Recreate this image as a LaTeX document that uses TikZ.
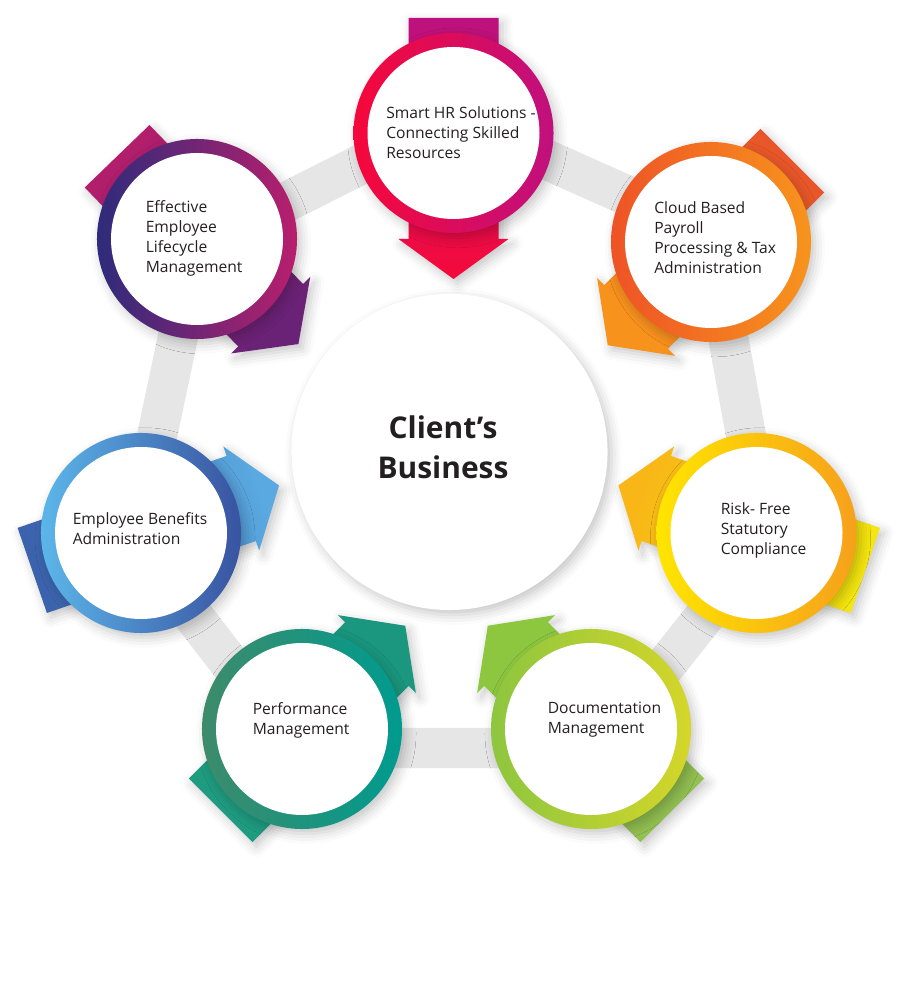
\documentclass[tikz,border=0pt]{standalone}
\usepackage{fontspec}
\setmainfont{Open Sans}
\usetikzlibrary{calc,shadows.blur}
\definecolor{ink}{HTML}{231F20}
\definecolor{band}{HTML}{E6E6E6}
\definecolor{hr-l}{HTML}{F5083A}\definecolor{hr-r}{HTML}{C0107E}
\definecolor{hr-t}{HTML}{BC117E}\definecolor{hr-h}{HTML}{F50A3A}
\definecolor{pay-l}{HTML}{EE5326}\definecolor{pay-r}{HTML}{F7941D}
\definecolor{pay-t}{HTML}{E9552A}\definecolor{pay-h}{HTML}{F7931D}
\definecolor{stat-l}{HTML}{FFE500}\definecolor{stat-r}{HTML}{F6A01C}
\definecolor{stat-t}{HTML}{F4E60E}\definecolor{stat-h}{HTML}{F8B617}
\definecolor{doc-l}{HTML}{8DC63F}\definecolor{doc-r}{HTML}{D5D629}
\definecolor{doc-t}{HTML}{92C052}\definecolor{doc-h}{HTML}{8DC63F}
\definecolor{perf-l}{HTML}{3D8B6B}\definecolor{perf-r}{HTML}{009B8F}
\definecolor{perf-t}{HTML}{1F9C80}\definecolor{perf-h}{HTML}{1A977E}
\definecolor{ben-l}{HTML}{5CB6EA}\definecolor{ben-r}{HTML}{3953A0}
\definecolor{ben-t}{HTML}{3B62AC}\definecolor{ben-h}{HTML}{5AA9E0}
\definecolor{life-l}{HTML}{2E2B7B}\definecolor{life-r}{HTML}{B81F6D}
\definecolor{life-t}{HTML}{B21E6C}\definecolor{life-h}{HTML}{6A2277}

\begin{document}
\begin{tikzpicture}[x=0.025cm, y=0.025cm,
  txt/.style={align=left, anchor=west, inner sep=0pt, text=ink,
    font=\fontsize{11.1}{14.2}\selectfont},
  disc/.style={circle, inner sep=0pt, minimum size=5cm},
  soft/.style={blur shadow={shadow xshift=0.1cm, shadow yshift=-0.12cm,
    shadow blur radius=0.25cm, shadow opacity=22}}]
\useasboundingbox (0,0) rectangle (915,1000);
% grey band behind the seven discs
\coordinate (b1) at (453,882);
\coordinate (b2) at (709,768);
\coordinate (b3) at (765,460);
\coordinate (b4) at (600,252);
\coordinate (b5) at (295,252);
\coordinate (b6) at (135,460);
\coordinate (b7) at (197,753);
\draw[band, line width=1cm, line join=round]
  (b1) -- (b2) -- (b3) -- (b4) -- (b5) -- (b6) -- (b7) -- cycle;
% centre disc
\node[disc, fill=white, minimum size=7.9cm, soft] (biz) at (449.5,548) {};
\node[align=center, inner sep=0pt, text=ink,
  font=\bfseries\fontsize{21.3}{28.45}\selectfont] (biz-t) at (443,553)
  {Client’s\\Business};
% each disc: arrow behind, then the coloured ring
\foreach \n/\x/\y/\a in {hr/453.5/867/-90, pay/711/758/-135,
    stat/756.5/467/161, doc/591/271/135, perf/302/271/45,
    ben/141/467/19, life/197/761/-46}{
  \pgfmathsetmacro\sa{\a-90}
  \shade[top color=\n-h, bottom color=\n-t, shading angle=\sa, soft]
    ($(\x,\y)+(\a+180:115)+(\a+90:45)$) -- ($(\x,\y)+(\a:106)+(\a+90:45)$)
    -- ($(\x,\y)+(\a:106)+(\a+90:55)$) -- ($(\x,\y)+(\a:146)$)
    -- ($(\x,\y)+(\a:106)+(\a-90:55)$) -- ($(\x,\y)+(\a:106)+(\a-90:45)$)
    -- ($(\x,\y)+(\a+180:115)+(\a-90:45)$) -- cycle;
  \node[disc, left color=\n-l, right color=\n-r, soft] (\n) at (\x,\y) {};
  \fill[white] (\n.center) circle[radius=86];
}
% labels
\node[txt] (hr-t) at (386,867) {Smart HR Solutions -\\Connecting Skilled\\Resources};
\node[txt] (life-t) at (145.5,762) {Effective\\Employee\\Lifecycle\\Management};
\node[txt] (pay-t) at (654,762) {Cloud Based\\Payroll\\Processing \& Tax\\Administration};
\node[txt] (stat-t) at (720.5,470) {Risk- Free\\Statutory\\Compliance};
\node[txt] (ben-t) at (72.5,471.5) {Employee Benefits\\Administration};
\node[txt] (perf-t) at (252.5,280) {Performance\\Management};
\node[txt] (doc-t) at (547.5,280) {Documentation\\Management};
\end{tikzpicture}
\end{document}
